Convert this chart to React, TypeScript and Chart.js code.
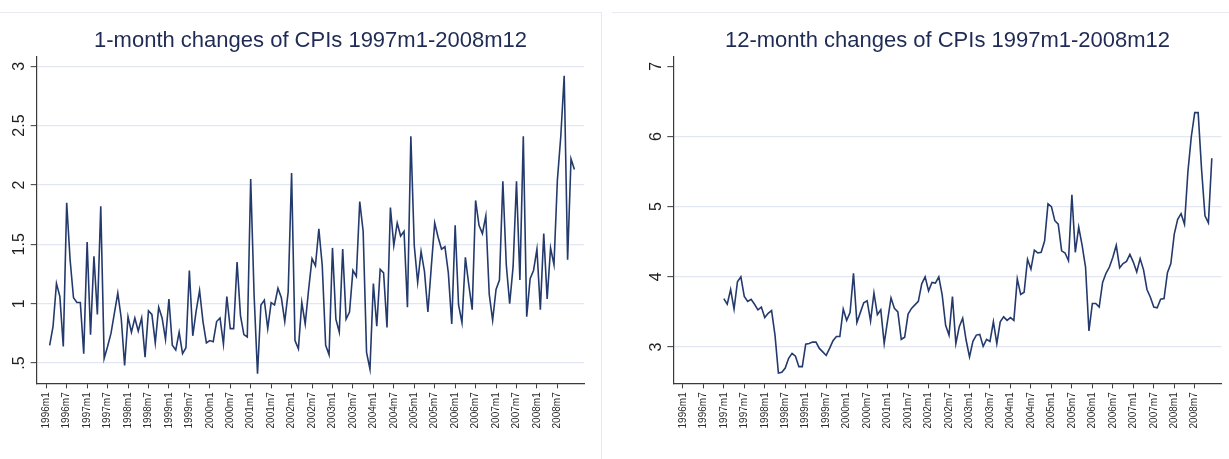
import React, { useEffect, useRef } from 'react';
import { Chart, registerables } from 'chart.js';

Chart.register(...registerables);

// month index: 0 = 1996m1
const xTickMonths = [0, 6, 12, 18, 24, 30, 36, 42, 48, 54, 60, 66, 72, 78, 84, 90, 96, 102, 108, 114, 120, 126, 132, 138, 144, 150];
const xTickLabels = [
  '1996m1', '1996m7', '1997m1', '1997m7', '1998m1', '1998m7', '1999m1', '1999m7',
  '2000m1', '2000m7', '2001m1', '2001m7', '2002m1', '2002m7', '2003m1', '2003m7',
  '2004m1', '2004m7', '2005m1', '2005m7', '2006m1', '2006m7', '2007m1', '2007m7',
  '2008m1', '2008m7',
];

// 1-month changes, first value = 1996m2 (month index 1)
const oneMonthStart = 1;
const oneMonthValues = [
  0.65, 0.81, 1.17, 1.06, 0.64, 1.85, 1.37, 1.05, 1.01, 1.01, 0.58,
  1.52, 0.74, 1.40, 0.91, 1.82, 0.54, 0.64, 0.75, 0.92, 1.09, 0.88, 0.48,
  0.89, 0.76, 0.88, 0.77, 0.88, 0.55, 0.94, 0.91, 0.67, 0.97, 0.88, 0.70,
  1.04, 0.65, 0.61, 0.76, 0.58, 0.63, 1.28, 0.73, 0.94, 1.11, 0.85, 0.67,
  0.69, 0.68, 0.85, 0.88, 0.66, 1.06, 0.79, 0.79, 1.35, 0.90, 0.74, 0.72,
  2.05, 1.07, 0.41, 0.99, 1.03, 0.79, 1.01, 0.99, 1.13, 1.05, 0.85, 1.10,
  2.10, 0.69, 0.62, 1.01, 0.83, 1.12, 1.38, 1.32, 1.63, 1.32, 0.65, 0.57,
  1.47, 0.87, 0.76, 1.46, 0.87, 0.93, 1.28, 1.23, 1.86, 1.61, 0.59, 0.45,
  1.17, 0.81, 1.29, 1.26, 0.80, 1.81, 1.49, 1.68, 1.57, 1.61, 0.97, 2.41,
  1.49, 1.18, 1.44, 1.27, 0.93, 1.31, 1.68, 1.56, 1.46, 1.48, 1.26, 0.83,
  1.66, 0.99, 0.84, 1.39, 1.16, 0.95, 1.87, 1.66, 1.59, 1.74, 1.08, 0.86,
  1.12, 1.20, 2.03, 1.33, 1.00, 1.31, 2.03, 1.20, 2.41, 0.89, 1.21, 1.28,
  1.46, 0.95, 1.59, 1.04, 1.47, 1.33, 2.04, 2.41, 2.92, 1.37, 2.22, 2.13,
];

// 12-month changes, first value = 1997m1 (month index 12)
const twelveMonthStart = 12;
const twelveMonthValues = [
  3.69, 3.61, 3.82, 3.54, 3.93, 4.00, 3.72, 3.65, 3.68, 3.61, 3.53, 3.57,
  3.42, 3.48, 3.52, 3.17, 2.63, 2.64, 2.70, 2.84, 2.91, 2.87, 2.72, 2.72,
  3.04, 3.05, 3.07, 3.07, 2.98, 2.93, 2.88, 2.98, 3.09, 3.15, 3.15, 3.54,
  3.38, 3.49, 4.05, 3.35, 3.49, 3.63, 3.66, 3.37, 3.77, 3.46, 3.53, 3.05,
  3.38, 3.70, 3.55, 3.50, 3.11, 3.14, 3.47, 3.55, 3.60, 3.65, 3.90, 4.00,
  3.80, 3.92, 3.91, 4.00, 3.74, 3.31, 3.17, 3.72, 3.05, 3.29, 3.41, 3.10,
  2.86, 3.08, 3.17, 3.18, 3.01, 3.11, 3.08, 3.36, 3.05, 3.36, 3.43, 3.38,
  3.42, 3.38, 3.97, 3.75, 3.78, 4.25, 4.11, 4.38, 4.34, 4.35, 4.51, 5.04,
  5.00, 4.80, 4.75, 4.37, 4.34, 4.23, 5.17, 4.35, 4.71, 4.45, 4.14, 3.23,
  3.62, 3.62, 3.57, 3.92, 4.05, 4.14, 4.28, 4.45, 4.13, 4.19, 4.22, 4.32,
  4.21, 4.07, 4.26, 4.10, 3.82, 3.71, 3.57, 3.56, 3.68, 3.69, 4.06, 4.19,
  4.61, 4.82, 4.90, 4.75, 5.50, 6.00, 6.34, 6.34, 5.53, 4.87, 4.77, 5.69,
];

const leftYTicks = [0.5, 1, 1.5, 2, 2.5, 3];
const leftYLabels = ['.5', '1', '1.5', '2', '2.5', '3'];
const rightYTicks = [3, 4, 5, 6, 7];
const rightYLabels = ['3', '4', '5', '6', '7'];

const FONT = "'Liberation Sans', Arial, Helvetica, sans-serif";
const LINE_COLOR = '#243a6c';
const GRID_COLOR = '#e3e7f1';
const AXIS_COLOR = '#3a3a3a';
const TITLE_COLOR = '#1f2b55';
const FRAME_COLOR = '#e6e9ef';

type PanelProps = {
  left: number;
  width: number;
  yAxisWidth: number;
  padRight: number;
  yMin: number;
  yMax: number;
  yTicks: number[];
  yLabels: string[];
  hideGridAt: number | null;
  title: string;
  start: number;
  values: number[];
};

function Panel(p: PanelProps) {
  const ref = useRef<HTMLCanvasElement | null>(null);
  useEffect(() => {
    if (!ref.current) return;
    const points = p.values.map((v, k) => ({ x: p.start + k, y: v }));
    const yLabelPlugin = {
      id: 'rotatedYLabels',
      afterDraw(chart: any) {
        const s = chart.scales.y;
        const ctx = chart.ctx;
        ctx.save();
        ctx.font = `16px ${FONT}`;
        ctx.fillStyle = '#1e1e1e';
        ctx.textAlign = 'center';
        ctx.textBaseline = 'alphabetic';
        s.ticks.forEach((t: any, i: number) => {
          const y = s.getPixelForValue(t.value);
          ctx.save();
          ctx.translate(s.right - 12.5, y);
          ctx.rotate(-Math.PI / 2);
          ctx.fillText(p.yLabels[i], 0, 0);
          ctx.restore();
        });
        ctx.restore();
      },
    };
    const chart = new Chart(ref.current, {
      type: 'line',
      data: {
        datasets: [
          {
            data: points,
            borderColor: LINE_COLOR,
            borderWidth: 1.6,
            pointRadius: 0,
            tension: 0,
            fill: false,
          },
        ],
      },
      options: {
        animation: false,
        responsive: false,
        maintainAspectRatio: false,
        layout: { padding: { left: 0, right: p.padRight, top: 0, bottom: 0 } },
        plugins: {
          legend: { display: false },
          tooltip: { enabled: false },
          title: {
            display: true,
            text: p.title,
            fullSize: false,
            color: TITLE_COLOR,
            font: { size: 22, family: FONT, weight: 'normal', lineHeight: 1.2 },
            padding: { top: 28.2, bottom: 2.1 },
          },
        },
        scales: {
          x: {
            type: 'linear',
            min: -2.8,
            max: 157.9,
            afterBuildTicks: (s: any) => {
              s.ticks = xTickMonths.map((v) => ({ value: v }));
            },
            afterFit: (s: any) => {
              s.height = 75.7;
            },
            ticks: {
              autoSkip: false,
              minRotation: 90,
              maxRotation: 90,
              padding: 4,
              color: '#2a2a2a',
              font: { size: 10, family: FONT },
              callback: (_v: any, i: number) => xTickLabels[i],
            },
            grid: {
              drawOnChartArea: false,
              drawTicks: true,
              tickLength: 5,
              tickColor: AXIS_COLOR,
              tickWidth: 1,
            },
            border: { display: true, color: AXIS_COLOR, width: 1.2 },
          },
          y: {
            type: 'linear',
            min: p.yMin,
            max: p.yMax,
            afterBuildTicks: (s: any) => {
              s.ticks = p.yTicks.map((v) => ({ value: v }));
            },
            afterFit: (s: any) => {
              s.width = p.yAxisWidth;
            },
            ticks: {
              color: 'rgba(0,0,0,0)',
              font: { size: 16, family: FONT },
              callback: (_v: any, i: number) => p.yLabels[i],
            },
            grid: {
              color: (c: any) =>
                c.tick && p.hideGridAt !== null && c.tick.value === p.hideGridAt ? 'rgba(0,0,0,0)' : GRID_COLOR,
              lineWidth: 1.3,
              drawTicks: true,
              tickLength: 6,
              tickColor: AXIS_COLOR,
              tickWidth: 1,
            },
            border: { display: true, color: AXIS_COLOR, width: 1.2 },
          },
        },
      } as any,
      plugins: [yLabelPlugin],
    });
    return () => chart.destroy();
  }, []);
  return (
    <canvas
      ref={ref}
      width={p.width}
      height={459}
      style={{ position: 'absolute', left: p.left, top: 0, width: p.width, height: 459, display: 'block' }}
    />
  );
}

export default function App() {
  return (
    <div style={{ position: 'absolute', left: 0, top: 0, width: 1229, height: 459, background: '#fff', overflow: 'hidden' }}>
      <Panel
        left={0}
        width={602}
        yAxisWidth={36.7}
        padRight={17.7}
        yMin={0.33}
        yMax={3.08}
        yTicks={leftYTicks}
        yLabels={leftYLabels}
        hideGridAt={null}
        title="1-month changes of CPIs 1997m1-2008m12"
        start={oneMonthStart}
        values={oneMonthValues}
      />
      <Panel
        left={612}
        width={617}
        yAxisWidth={61.3}
        padRight={7.3}
        yMin={2.483}
        yMax={7.137}
        yTicks={rightYTicks}
        yLabels={rightYLabels}
        hideGridAt={7}
        title="12-month changes of CPIs 1997m1-2008m12"
        start={twelveMonthStart}
        values={twelveMonthValues}
      />
      <div style={{ position: 'absolute', left: 0, top: 12, width: 602, height: 1, background: FRAME_COLOR }} />
      <div style={{ position: 'absolute', left: 601, top: 12, width: 1, height: 447, background: FRAME_COLOR }} />
      <div style={{ position: 'absolute', left: 612, top: 12, width: 617, height: 1, background: FRAME_COLOR }} />
    </div>
  );
}
